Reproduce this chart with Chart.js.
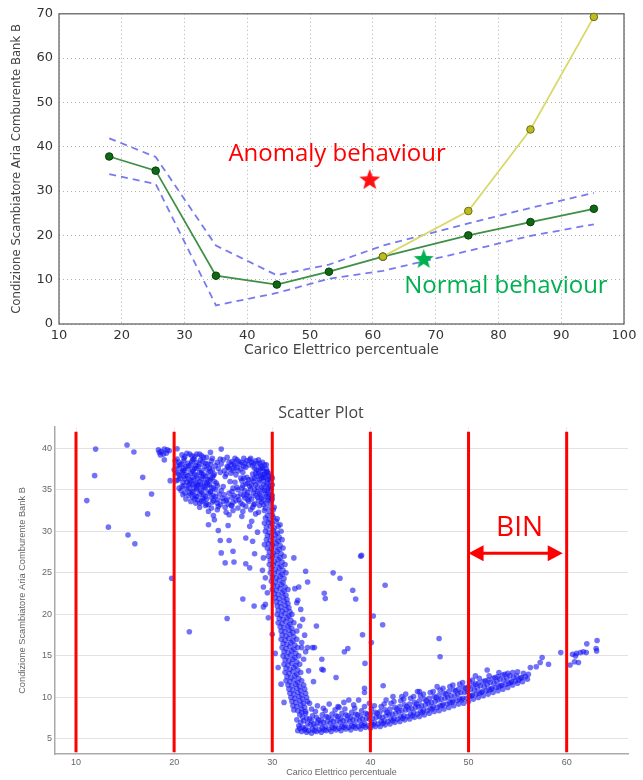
<!DOCTYPE html>
<html>
<head>
<meta charset="utf-8">
<title>Carico Elettrico percentuale</title>
<script src="https://cdn.jsdelivr.net/npm/chart.js@4.4.1/dist/chart.umd.min.js"></script>
<style>
  html, body { margin: 0; padding: 0; background: #fff; }
  #page { position: relative; width: 643px; height: 780px; }
  #behaviourChart { position: absolute; left: 0; top: 0; }
  #scatterChart { position: absolute; left: 0; top: 385px; }
</style>
</head>
<body>
<div id="page">
  <canvas id="behaviourChart" width="643" height="362"></canvas>
  <canvas id="scatterChart" width="643" height="395"></canvas>
</div>
<script>
// ---- behaviour curves (upper chart) ----
const loadPct   = [18, 25.4, 35, 44.7, 53, 61.6, 75.2, 85.1, 95.2];
const meanCond  = [37.8, 34.6, 10.9, 8.9, 11.8, 15.2, 20.0, 23.0, 26.0];
const upperBand = [41.9, 37.7, 17.7, 11.0, 13.4, 17.7, 22.7, 26.2, 29.6];
const lowerBand = [33.8, 31.6, 4.2, 7.0, 10.2, 12.0, 16.5, 19.9, 22.5];
const anomalyLoad = [61.6, 75.2, 85.1, 95.2];
const anomalyCond = [15.2, 25.5, 43.9, 69.3];
const anomalyStar = [59.5, 32.7];
const normalStar  = [68.1, 14.8];
const notes = [
  { text: 'Anomaly behaviour', at: [54.3, 36.7], color: '#ff0000' },
  { text: 'Normal behaviour',  at: [81.2, 6.9],  color: '#00b050' }
];
const topXTicks = [10, 20, 30, 40, 50, 60, 70, 80, 90, 100];
const topYTicks = [0, 10, 20, 30, 40, 50, 60, 70];

// ---- scatter samples (lower chart) ----
const clusterHigh = [
  [18.4,39.8],[18.7,39.6],[19.0,39.9],[19.2,39.4],[18.9,39.3],[19.5,39.7],[18.6,39.2],[19.3,39.8],[18.5,39.5],
  [20.8,39.2],[21.3,39.4],[21.8,39.1],[22.3,39.3],[22.8,39.1],[23.3,38.9],[21.0,38.8],[22.0,38.7],
  [20.1,38.5],[20.5,38.3],[21.0,38.5],[21.4,38.2],[21.8,38.4],[22.3,38.3],[22.7,38.6],[23.2,38.2],[23.8,38.5],[24.4,38.3],[25.0,38.6],[25.9,38.4],[26.4,38.6],[26.9,38.3],[27.4,38.5],[27.9,38.3],[28.3,38.5],[28.7,38.2],
  [20.3,37.9],[20.8,38.1],[21.2,37.8],[21.7,38.0],[22.2,37.9],[22.6,38.1],[23.1,37.8],[23.7,38.0],[24.2,37.9],[24.8,38.1],[25.4,37.8],[25.8,38.0],[26.2,37.9],[26.7,38.1],[27.1,37.8],[27.6,38.0],[28.0,37.9],[28.5,38.1],[28.9,37.8],[29.2,38.0],
  [20.0,37.4],[20.5,37.6],[20.9,37.3],[21.4,37.5],[21.9,37.4],[22.3,37.6],[22.8,37.3],[23.3,37.5],[23.9,37.4],[24.5,37.6],[25.1,37.3],[25.6,37.5],[26.0,37.6],[26.5,37.3],[28.4,37.4],[28.8,37.6],[29.1,37.3],[29.4,37.5],
  [20.4,36.9],[20.8,37.1],[21.2,36.8],[21.7,37.0],[22.1,36.9],[22.6,37.1],[23.0,36.8],[23.5,37.0],[24.1,36.9],[24.7,37.1],[25.3,36.9],[25.8,37.0],[26.3,36.8],[27.0,37.1],[28.0,36.9],[28.6,37.0],[29.0,36.8],[29.4,37.1],[29.6,36.7],
  [20.6,36.4],[21.0,36.6],[21.5,36.3],[21.9,36.5],[22.4,36.4],[22.9,36.6],[23.4,36.3],[23.9,36.5],[25.2,36.6],[26.8,36.4],[27.4,36.5],[27.9,36.3],[28.4,36.6],[28.9,36.4],[29.3,36.5],[29.7,36.3],
  [20.2,36.1],[21.3,35.9],[21.7,36.1],[22.2,35.8],[22.6,36.0],[23.1,35.9],[23.6,36.1],[24.3,35.8],[26.2,35.9],[26.9,36.1],[27.5,35.8],[28.1,36.0],[28.6,35.9],[29.1,36.1],[29.5,35.8],[29.8,36.0],
  [20.8,35.4],[21.5,35.6],[22.0,35.3],[22.4,35.5],[22.9,35.4],[23.4,35.6],[23.8,35.3],[24.4,35.5],[26.4,35.3],[27.0,35.5],[27.7,35.4],[28.3,35.6],[28.9,35.3],[29.4,35.5],[29.8,35.4],
  [20.7,34.9],[21.3,35.1],[21.8,34.8],[22.3,35.0],[22.7,34.9],[23.2,35.1],[23.7,34.8],[24.2,35.0],[24.8,34.9],[25.9,34.8],[26.5,35.0],[27.2,34.9],[27.8,35.1],[28.5,34.8],[29.0,35.0],[29.5,34.9],[29.9,35.1],
  [20.9,34.4],[21.6,34.6],[22.1,34.3],[22.6,34.5],[23.0,34.4],[23.5,34.6],[24.0,34.3],[24.6,34.5],[25.1,34.4],[25.6,34.6],[26.1,34.3],[26.8,34.5],[27.4,34.4],[28.1,34.6],[28.8,34.3],[29.3,34.5],[29.8,34.4],
  [21.2,33.9],[21.9,34.1],[22.4,33.8],[22.9,34.0],[23.3,33.9],[23.8,34.1],[24.4,33.8],[24.9,34.0],[25.4,33.9],[25.9,34.1],[26.6,33.8],[27.2,34.0],[27.9,33.9],[28.5,34.1],[29.1,33.8],[29.6,34.0],[30.0,33.9],
  [22.2,33.4],[22.8,33.6],[23.3,33.3],[23.9,33.5],[24.4,33.4],[25.0,33.6],[25.5,33.3],[26.0,33.5],[26.8,33.4],[27.6,33.6],[28.2,33.3],[28.9,33.5],[29.4,33.4],[29.9,33.6],
  [22.6,32.9],[23.2,33.1],[23.8,32.8],[24.5,33.0],[25.2,32.9],[25.9,33.1],[26.5,32.8],[27.3,33.0],[28.0,32.9],[28.7,33.1],[29.3,32.8],[29.8,33.0],[30.2,32.9],
  [23.5,32.4],[24.4,32.6],[25.3,32.3],[26.0,32.5],[27.0,32.4],[27.8,32.6],[28.6,32.3],[29.2,32.5],[29.7,32.4],[30.1,32.6],
  [24.0,31.9],[25.6,32.0],[26.9,31.8],[28.3,32.1],[29.5,31.9],[30.0,32.0]
];

// second pass of readings inside the two dense blocks of the high cluster
const clusterHighFill = [
  [20.3,38.7],[20.6,38.0],[21.0,37.6],[21.5,37.9],[21.9,38.6],[22.1,37.6],[22.5,37.8],[22.9,38.4],[23.4,38.1],[23.6,37.6],
  [20.2,37.1],[20.6,36.7],[21.0,37.3],[21.4,36.7],[21.9,37.2],[22.3,36.7],[22.8,37.0],[23.2,36.6],[23.7,37.2],[24.0,36.7],
  [20.4,36.2],[20.9,35.9],[21.1,36.3],[21.6,35.8],[22.0,36.2],[22.4,35.7],[22.8,36.3],[23.3,35.8],[23.7,36.3],[24.1,36.0],
  [20.5,35.2],[21.0,35.5],[21.5,35.2],[21.9,35.6],[22.3,35.2],[22.7,35.6],[23.1,35.3],[23.6,35.6],[24.0,35.2],
  [21.1,34.6],[21.5,34.3],[21.9,34.7],[22.3,34.2],[22.8,34.7],[23.2,34.2],[23.7,34.7],[24.2,34.2],
  [21.7,33.6],[22.1,33.9],[22.6,33.4],[23.0,33.7],[23.5,33.2],[24.0,33.7],[24.7,33.2],[25.3,33.7],[25.8,33.1],
  [26.3,33.7],[27.0,33.2],[27.5,33.8],[28.1,33.2],[28.6,33.7],[29.1,33.2],[29.6,33.7],
  [25.6,38.3],[26.1,38.2],[26.6,38.4],[27.2,38.2],[27.7,38.6],[28.1,38.2],[28.6,38.6],[29.0,38.3],[29.4,38.0],
  [25.5,37.7],[26.0,37.3],[26.4,37.7],[26.8,37.5],[27.3,37.7],[28.2,37.6],[28.6,37.3],[29.0,37.6],[29.5,37.2],
  [28.3,37.0],[28.8,36.7],[29.2,36.9],[29.6,37.0],[29.9,36.6],
  [27.1,36.4],[27.6,36.2],[28.2,36.4],[28.7,36.2],[29.1,36.5],[29.5,36.2],[30.0,36.4],
  [27.3,35.7],[27.9,35.6],[28.5,35.3],[29.1,35.6],[29.6,35.2],[30.0,35.6],
  [26.9,35.2],[27.5,34.7],[28.2,35.0],[28.7,34.6],[29.2,34.9],[29.6,34.6],[30.0,34.3],
  [26.5,34.2],[27.1,34.3],[27.7,34.2],[28.3,34.3],[28.9,34.0],[29.4,34.2],[29.9,34.0],
  [21.1,39.0],[21.6,39.3],[22.1,39.0],[22.6,39.3],[23.0,38.9],[23.9,38.8],[24.7,38.7],[25.4,38.9],[26.2,38.8],[27.1,38.8],[27.8,38.8]
];

const descent = [
  [29.3,31.6],[29.7,31.4],[30.1,31.7],[30.5,31.5],
  [29.2,31.0],[29.6,31.1],[30.0,30.9],[30.4,31.2],[30.8,30.8],
  [29.4,30.5],[29.8,30.6],[30.2,30.4],[30.6,30.6],
  [29.3,30.0],[29.7,29.9],[30.1,30.1],[30.5,29.8],[30.9,30.0],
  [29.5,29.5],[29.9,29.4],[30.3,29.6],[30.7,29.3],
  [29.4,29.0],[29.8,28.9],[30.2,29.1],[30.6,28.8],[31.0,29.0],
  [29.6,28.5],[30.0,28.4],[30.4,28.6],[30.8,28.3],
  [29.5,28.0],[29.9,27.9],[30.3,28.1],[30.7,27.8],[31.1,28.0],
  [29.7,27.5],[30.1,27.4],[30.5,27.6],[30.9,27.3],
  [29.6,27.0],[30.0,26.9],[30.4,27.1],[30.8,26.8],[31.2,27.0],
  [29.8,26.5],[30.2,26.4],[30.6,26.6],[31.0,26.3],
  [29.7,26.0],[30.1,25.9],[30.5,26.1],[30.9,25.8],[31.3,26.0],
  [29.9,25.5],[30.3,25.4],[30.7,25.6],[31.1,25.3],
  [29.8,25.0],[30.2,24.9],[30.6,25.1],[31.0,24.8],[31.4,25.0],
  [30.0,24.5],[30.4,24.4],[30.8,24.6],[31.2,24.3],
  [29.9,24.0],[30.3,23.9],[30.7,24.1],[31.1,23.8],
  [30.1,23.5],[30.5,23.4],[30.9,23.6],[31.3,23.3],
  [30.0,23.0],[30.4,22.9],[30.8,23.1],[31.2,22.8],[31.6,23.0],
  [30.2,22.5],[30.6,22.4],[31.0,22.6],[31.4,22.3],
  [30.3,22.0],[30.7,21.9],[31.1,22.1],[31.5,21.8],
  [30.4,21.5],[30.8,21.4],[31.2,21.6],[31.6,21.3],
  [30.5,21.0],[30.9,20.9],[31.3,21.1],[31.7,20.8],
  [30.6,20.5],[31.0,20.4],[31.4,20.6],[31.8,20.3],
  [30.5,20.0],[30.9,19.9],[31.3,20.1],[31.7,19.8],[32.0,20.0],
  [30.7,19.5],[31.1,19.4],[31.5,19.6],[31.9,19.3],
  [30.6,19.0],[31.0,18.9],[31.4,19.1],[31.8,18.8],[32.2,19.0],
  [30.8,18.5],[31.2,18.4],[31.6,18.6],[32.0,18.3],
  [30.9,18.0],[31.3,17.9],[31.7,18.1],[32.1,17.8],[32.5,18.0],
  [31.0,17.5],[31.4,17.4],[31.8,17.6],[32.2,17.3],
  [30.9,17.0],[31.3,16.9],[31.7,17.1],[32.1,16.8],[32.5,17.0],
  [31.1,16.5],[31.5,16.4],[31.9,16.6],[32.3,16.3],
  [31.0,16.0],[31.4,15.9],[31.8,16.1],[32.2,15.8],[32.6,16.0],
  [31.2,15.5],[31.6,15.4],[32.0,15.6],[32.4,15.3],
  [31.1,15.0],[31.5,14.9],[31.9,15.1],[32.3,14.8],[32.7,15.0],
  [31.3,14.5],[31.7,14.4],[32.1,14.6],[32.5,14.3],
  [31.2,14.0],[31.6,13.9],[32.0,14.1],[32.4,13.8],[32.8,14.0],
  [31.4,13.5],[31.8,13.4],[32.2,13.6],[32.6,13.3],
  [31.3,13.0],[31.7,12.9],[32.1,13.1],[32.5,12.8],[32.9,13.0],
  [31.5,12.5],[31.9,12.4],[32.3,12.6],[32.7,12.3],
  [31.4,12.0],[31.8,11.9],[32.2,12.1],[32.6,11.8],[33.0,12.0],
  [31.6,11.5],[32.0,11.4],[32.4,11.6],[32.8,11.3],[33.2,11.5],
  [31.7,11.0],[32.1,10.9],[32.5,11.1],[32.9,10.8],[33.3,11.0],
  [31.8,10.5],[32.2,10.4],[32.6,10.6],[33.0,10.3],[33.4,10.5],
  [31.9,10.0],[32.3,9.9],[32.7,10.1],[33.1,9.8],[33.5,10.0],
  [32.0,9.5],[32.4,9.4],[32.8,9.6],[33.2,9.3],[33.6,9.5],
  [32.1,9.0],[32.5,8.9],[32.9,9.1],[33.3,8.8],
  [32.2,8.5],[32.6,8.4],[33.0,8.6],[33.4,8.3],
  [32.6,21.7],[32.9,20.6],[33.1,19.4],[32.8,18.6],[33.3,17.5],[33.0,16.6],[33.4,15.5],[33.2,14.6],[33.7,13.2],
  [29.1,23.3],[29.3,21.2],[29.6,19.6],[30.0,17.6],[30.3,15.3],[30.6,13.6],[30.9,11.6],[31.2,9.4],
  [29.0,25.3],[29.1,26.8],[29.2,28.4],[29.3,24.4],[29.5,22.6]
];

const lowBand = [
  [32.6,6.0],[32.7,6.6],[32.5,7.3],[32.8,7.9],
  [33.0,5.9],[33.1,6.4],[32.9,7.0],[33.1,7.6],[33.0,8.2],
  [33.5,5.8],[33.4,6.3],[33.6,6.9],[33.5,7.5],[33.4,8.1],
  [34.0,5.7],[34.1,6.2],[33.9,6.7],[34.0,7.2],[34.1,7.8],
  [34.5,5.9],[34.4,6.5],[34.6,7.0],[34.5,7.6],[34.4,8.3],
  [35.0,5.8],[35.1,6.3],[34.9,6.8],[35.0,7.3],[35.1,7.9],
  [35.5,6.0],[35.4,6.5],[35.6,7.1],[35.5,7.7],[35.4,8.4],
  [36.0,5.9],[36.1,6.4],[35.9,6.9],[36.0,7.4],[36.1,8.0],
  [36.5,6.1],[36.4,6.6],[36.6,7.2],[36.5,7.8],[36.4,8.5],
  [37.0,6.0],[37.1,6.5],[36.9,7.0],[37.0,7.5],[37.1,8.1],
  [37.5,6.2],[37.4,6.7],[37.6,7.3],[37.5,7.9],[37.4,8.6],
  [38.0,6.1],[38.1,6.6],[37.9,7.1],[38.0,7.6],[38.1,8.2],
  [38.5,6.3],[38.4,6.8],[38.6,7.4],[38.5,8.0],[38.4,8.7],
  [39.0,6.2],[39.1,6.7],[38.9,7.2],[39.0,7.8],[39.1,8.4],
  [39.5,6.4],[39.4,6.9],[39.6,7.5],[39.5,8.1],[39.4,8.9],
  [40.0,6.3],[40.1,6.8],[39.9,7.4],[40.0,8.0],[40.1,8.6],
  [40.5,6.5],[40.4,7.0],[40.6,7.6],[40.5,8.2],[40.4,9.0],
  [41.0,6.5],[41.1,7.1],[40.9,7.7],[41.0,8.3],[41.1,8.9],
  [41.5,6.7],[41.4,7.2],[41.6,7.8],[41.5,8.5],[41.4,9.2],
  [42.0,6.8],[42.1,7.4],[41.9,8.0],[42.0,8.6],[42.1,9.3],
  [42.5,7.0],[42.4,7.5],[42.6,8.1],[42.5,8.8],[42.4,9.5],
  [43.0,7.1],[43.1,7.7],[42.9,8.3],[43.0,8.9],[43.1,9.6],
  [43.5,7.3],[43.4,7.8],[43.6,8.5],[43.5,9.1],[43.4,9.8],
  [44.0,7.4],[44.1,8.0],[43.9,8.6],[44.0,9.2],[44.1,9.9],
  [44.5,7.6],[44.4,8.2],[44.6,8.8],[44.5,9.4],[44.4,10.1],
  [45.0,7.7],[45.1,8.3],[44.9,8.9],[45.0,9.6],[45.1,10.2],
  [45.5,7.9],[45.4,8.5],[45.6,9.1],[45.5,9.8],[45.4,10.4],
  [46.0,8.1],[46.1,8.7],[45.9,9.3],[46.0,9.9],[46.1,10.6],
  [46.5,8.3],[46.4,8.9],[46.6,9.5],[46.5,10.1],[46.4,10.7],
  [47.0,8.4],[47.1,9.0],[46.9,9.7],[47.0,10.3],[47.1,10.9],
  [47.5,8.6],[47.4,9.2],[47.6,9.9],[47.5,10.5],[47.4,11.1],
  [48.0,8.8],[48.1,9.4],[47.9,10.0],[48.0,10.7],[48.1,11.3],
  [48.5,9.0],[48.4,9.6],[48.6,10.2],[48.5,10.9],[48.4,11.5],
  [49.0,9.2],[49.1,9.8],[48.9,10.4],[49.0,11.0],[49.1,11.6],
  [49.5,9.3],[49.4,9.9],[49.6,10.6],[49.5,11.2],[49.4,11.8],
  [50.0,9.5],[50.1,10.1],[49.9,10.7],[50.0,11.3],[50.1,11.9],
  [50.5,9.8],[50.4,10.3],[50.6,10.9],[50.5,11.5],[50.4,12.1],
  [51.0,10.0],[51.1,10.5],[50.9,11.1],[51.0,11.7],[51.1,12.3],
  [51.5,10.2],[51.4,10.7],[51.6,11.3],[51.5,11.9],
  [52.0,10.4],[52.1,10.9],[51.9,11.5],[52.0,12.1],[52.1,12.6],
  [52.5,10.6],[52.4,11.1],[52.6,11.7],[52.5,12.3],
  [53.0,10.8],[53.1,11.3],[52.9,11.9],[53.0,12.5],[53.1,13.0],
  [53.5,11.0],[53.4,11.5],[53.6,12.1],[53.5,12.7],
  [54.0,11.2],[54.1,11.7],[53.9,12.3],[54.0,12.9],
  [54.5,11.5],[54.4,11.9],[54.6,12.4],[54.5,13.0],
  [55.0,11.7],[55.1,12.1],[54.9,12.6],[55.0,13.1],
  [55.5,11.9],[55.4,12.4],[55.6,12.9],
  [56.0,12.2],[56.1,12.8]
];

// second pass of readings between the columns of the band
const lowBandFill = [
  [32.8,6.3],[33.3,6.1],[33.7,6.0],[33.2,7.2],[33.8,7.4],[34.3,6.0],[34.2,6.8],[34.8,6.1],[34.7,7.3],
  [35.3,6.1],[35.2,7.0],[35.8,6.2],[35.7,7.6],[36.3,6.3],[36.2,7.1],[36.8,6.3],[36.7,7.7],[37.3,6.4],
  [37.2,7.2],[37.8,6.4],[37.7,7.8],[38.3,6.5],[38.2,7.3],[38.8,6.5],[38.7,7.9],[39.3,6.6],[39.2,7.4],
  [39.8,6.6],[39.7,8.0],[40.3,6.7],[40.2,7.5],[40.8,6.8],[40.7,8.1],[41.3,6.9],[41.2,7.6],[41.8,7.1],
  [41.7,8.2],[42.3,7.2],[42.2,8.0],[42.8,7.4],[42.7,8.6],[43.3,7.5],[43.2,8.4],[43.8,7.7],[43.7,8.9],
  [44.3,7.8],[44.2,8.7],[44.8,8.0],[44.7,9.2],[45.3,8.2],[45.2,9.0],[45.8,8.4],[45.7,9.6],[46.3,8.6],
  [46.2,9.4],[46.8,8.8],[46.7,10.0],[47.3,9.0],[47.2,9.8],[47.8,9.2],[47.7,10.4],[48.3,9.4],[48.2,10.2],
  [48.8,9.6],[48.7,10.8],[49.3,9.7],[49.2,10.6],[49.8,9.9],[49.7,11.1],[50.3,10.2],[50.2,11.0],[50.8,10.4],
  [50.7,11.6],[51.3,10.6],[51.2,11.4],[51.8,10.8],[51.7,12.0],[52.3,11.0],[52.2,11.8],[52.8,11.2],[52.7,12.4],
  [53.3,11.4],[53.2,12.2],[53.8,11.6],[53.7,12.8],[54.3,11.8],[54.2,12.6],[54.8,12.0],[55.3,12.3],[55.8,12.5],
  [34.0,8.6],[35.2,8.7],[36.8,8.8],[38.3,9.1],[39.9,9.3],[41.6,9.7],[43.2,10.1],[45.0,10.7],[46.8,11.3]
];

const highLoadTail = [
  [56.3,13.6],[56.9,13.7],[57.3,14.2],[57.5,14.8],[58.15,14.0],[59.4,15.4],[60.35,13.9],
  [60.6,15.2],[60.9,15.0],[61.2,14.2],[61.0,15.3],[61.4,15.4],[61.7,15.5],[62.0,15.4],
  [60.8,14.3],[62.05,16.45],[63.1,16.85],[63.0,15.9],[63.05,15.6]
];

const strays = [
  [12.0,39.9],[15.2,40.4],[15.9,39.55],[11.9,36.7],[16.8,36.5],[11.1,33.7],[17.7,34.5],[17.3,32.1],
  [13.3,30.5],[15.3,29.55],[16.0,28.5],[19.0,38.6],[19.6,36.1],[20.3,39.95],[24.8,39.9],[23.7,39.5],
  [19.75,24.35],[21.55,17.9],[25.4,19.5],[27.0,21.85],[28.15,21.0],[29.1,20.9],[26.1,26.3],[25.2,26.2],
  [27.3,26.1],[27.7,25.6],[26.0,27.6],[25.6,28.9],[24.8,27.4],[24.7,28.9],[24.5,30.1],[25.5,30.7],
  [27.3,29.2],[27.7,30.6],[28.2,27.3],[28.0,28.8],[28.5,29.9],[27.9,31.2],[24.1,31.4],[23.5,30.8],
  [32.2,26.8],[33.4,25.2],[36.2,25.0],[36.9,24.35],[33.6,23.9],[32.7,23.3],[32.3,23.1],[35.3,22.55],
  [35.4,21.9],[38.2,22.9],[38.5,21.85],[39.0,27.0],[39.1,27.1],[32.5,21.4],[34.5,18.6],[39.2,17.55],
  [40.3,19.8],[41.25,18.75],[41.5,23.5],[40.1,16.6],[37.7,15.9],[37.35,15.5],[34.1,16.0],[33.0,16.0],
  [47.0,17.1],[47.1,14.9],[39.45,14.1],[41.3,11.4],[39.4,11.1],[35.05,14.6],[35.05,13.4],[36.5,12.4],
  [35.2,13.3],[34.2,11.9],[37.8,9.7],[38.8,9.7],[39.4,10.6],[50.7,12.6],[51.9,13.3],[33.6,16.0],[34.3,16.0],
  [33.8,9.3],[34.6,9.0],[35.8,9.2],[36.7,8.9],[37.3,9.4],[42.3,10.1],[44.8,10.7],[43.6,10.4],
  [25.0,35.4],[25.7,36.0],[26.0,35.2]
];

const binEdges = [10, 20, 30, 40, 50, 60];
const edgeSpan = [3.4, 42.0];
const binArrow = { span: [50, 59.6], level: 27.35, label: 'BIN', labelAt: [55.2, 29.4] };
const scatterXTicks = [10, 20, 30, 40, 50, 60];
const scatterYTicks = [5, 10, 15, 20, 25, 30, 35, 40];

const yTitle = 'Condizione Scambiatore Aria Comburente Bank B';
const xTitle = 'Carico Elettrico percentuale';

// helpers
const zip = (xs, ys) => xs.map((x, i) => ({ x, y: ys[i] }));
const asPoints = list => list.map(p => ({ x: p[0], y: p[1] }));

function starImage(color, r) {
  const c = document.createElement('canvas');
  c.width = c.height = Math.ceil(r * 2 + 2);
  const g = c.getContext('2d');
  g.translate(c.width / 2, c.height / 2 + r * 0.1);
  g.beginPath();
  for (let i = 0; i < 10; i++) {
    const a = -Math.PI / 2 + i * Math.PI / 5;
    const rr = i % 2 ? r * 0.42 : r;
    g.lineTo(rr * Math.cos(a), rr * Math.sin(a));
  }
  g.closePath();
  g.fillStyle = color;
  g.fill();
  return c;
}

// frame round the plot area, matplotlib style
const framePlugin = {
  id: 'frame',
  beforeDatasetsDraw(chart) {
    const { ctx, chartArea: a } = chart;
    ctx.save();
    ctx.strokeStyle = '#666';
    ctx.lineWidth = 1.3;
    ctx.strokeRect(a.left, a.top, a.right - a.left, a.bottom - a.top);
    ctx.restore();
  }
};

const notesPlugin = {
  id: 'notes',
  afterDatasetsDraw(chart) {
    const { ctx, scales: { x, y } } = chart;
    ctx.save();
    ctx.font = '24px "Open Sans"';
    ctx.textAlign = 'center';
    ctx.textBaseline = 'alphabetic';
    notes.forEach(n => {
      ctx.fillStyle = n.color;
      ctx.fillText(n.text, x.getPixelForValue(n.at[0]), y.getPixelForValue(n.at[1]));
    });
    ctx.restore();
  }
};

const binPlugin = {
  id: 'binArrow',
  afterDatasetsDraw(chart) {
    const { ctx, scales: { x, y } } = chart;
    const x0 = x.getPixelForValue(binArrow.span[0]);
    const x1 = x.getPixelForValue(binArrow.span[1]);
    const yy = y.getPixelForValue(binArrow.level);
    const head = 15, half = 8;
    ctx.save();
    ctx.strokeStyle = ctx.fillStyle = '#ff0000';
    ctx.lineWidth = 3;
    ctx.beginPath();
    ctx.moveTo(x0 + head - 1, yy);
    ctx.lineTo(x1 - head + 1, yy);
    ctx.stroke();
    ctx.beginPath();
    ctx.moveTo(x0, yy); ctx.lineTo(x0 + head, yy - half); ctx.lineTo(x0 + head, yy + half);
    ctx.closePath(); ctx.fill();
    ctx.beginPath();
    ctx.moveTo(x1, yy); ctx.lineTo(x1 - head, yy - half); ctx.lineTo(x1 - head, yy + half);
    ctx.closePath(); ctx.fill();
    ctx.font = '28px "Open Sans"';
    ctx.textAlign = 'center';
    ctx.textBaseline = 'alphabetic';
    ctx.fillText(binArrow.label, x.getPixelForValue(binArrow.labelAt[0]), y.getPixelForValue(binArrow.labelAt[1]));
    ctx.restore();
  }
};

Chart.defaults.animation = false;
Chart.defaults.events = [];

// ---- upper chart ----
const dashed = { borderColor: 'rgba(88,88,235,0.8)', borderWidth: 1.8, borderDash: [7, 5], pointRadius: 0, tension: 0 };
new Chart(document.getElementById('behaviourChart'), {
  type: 'line',
  data: {
    datasets: [
      { ...dashed, data: zip(loadPct, upperBand), order: 4 },
      { ...dashed, data: zip(loadPct, lowerBand), order: 4 },
      {
        data: zip(loadPct, meanCond), borderColor: '#3f8f46', borderWidth: 1.8, tension: 0,
        pointRadius: 3.8, pointBackgroundColor: '#0e6a12', pointBorderColor: '#0a3d0c', pointBorderWidth: 1, order: 3
      },
      {
        data: zip(anomalyLoad, anomalyCond), borderColor: '#d9d96b', borderWidth: 1.8, tension: 0,
        pointRadius: 3.8, pointBackgroundColor: '#bcbc21', pointBorderColor: '#6b6b10', pointBorderWidth: 1, order: 2
      },
      { data: [{ x: anomalyStar[0], y: anomalyStar[1] }], showLine: false, pointStyle: starImage('#ff1010', 11), order: 1 },
      { data: [{ x: normalStar[0], y: normalStar[1] }], showLine: false, pointStyle: starImage('#00b050', 10.5), order: 1 }
    ]
  },
  options: {
    responsive: false,
    clip: false,
    layout: { padding: { top: 11, right: 19, left: 0, bottom: 0 } },
    plugins: { legend: { display: false }, tooltip: { enabled: false } },
    scales: {
      x: {
        type: 'linear', min: 10, max: 100,
        afterBuildTicks: s => { s.ticks = topXTicks.map(v => ({ value: v })); },
        afterFit: s => { s.height = 38; },
        ticks: { color: '#333', font: { family: 'DejaVu Sans', size: 13 }, padding: 4, maxRotation: 0 },
        grid: { color: '#b0b0b0', lineWidth: 1, drawTicks: false },
        border: { display: false, dash: [1, 3] },
        title: { display: true, text: xTitle, color: '#444', font: { family: 'DejaVu Sans', size: 14 }, padding: { top: 0, bottom: 3 } }
      },
      y: {
        type: 'linear', min: 0, max: 70,
        afterBuildTicks: s => { s.ticks = topYTicks.map(v => ({ value: v })); },
        afterFit: s => { s.width = 59; },
        ticks: { color: '#333', font: { family: 'DejaVu Sans', size: 13 }, padding: 6 },
        grid: { color: '#b0b0b0', lineWidth: 1, drawTicks: false },
        border: { display: false, dash: [1, 3] },
        title: { display: true, text: yTitle, color: '#444', font: { family: 'DejaVu Sans', size: 11.7 }, padding: { top: 10, bottom: 0 } }
      }
    }
  },
  plugins: [framePlugin, notesPlugin]
});

// ---- lower chart ----
const dots = { showLine: false, pointRadius: 2.8, pointBorderWidth: 0, pointBackgroundColor: 'rgba(20,20,245,0.6)', order: 5 };
const edgeLines = binEdges.map(e => ({
  data: [{ x: e, y: edgeSpan[0] }, { x: e, y: edgeSpan[1] }],
  showLine: true, borderColor: '#ff0000', borderWidth: 3, pointRadius: 0, order: 1
}));

new Chart(document.getElementById('scatterChart'), {
  type: 'scatter',
  data: {
    datasets: [
      ...edgeLines,
      { ...dots, data: asPoints(clusterHigh) },
      { ...dots, data: asPoints(clusterHighFill) },
      { ...dots, data: asPoints(descent) },
      { ...dots, data: asPoints(lowBand) },
      { ...dots, data: asPoints(lowBandFill) },
      { ...dots, data: asPoints(highLoadTail) },
      { ...dots, data: asPoints(strays) }
    ]
  },
  options: {
    responsive: false,
    layout: { padding: { top: 0, right: 15, left: 14, bottom: 0 } },
    plugins: {
      legend: { display: false },
      tooltip: { enabled: false },
      title: {
        display: true, text: 'Scatter Plot', color: '#444',
        font: { family: 'Open Sans', size: 16, weight: 'normal' },
        padding: { top: 19, bottom: 3.8 }
      }
    },
    scales: {
      x: {
        type: 'linear', min: 7.86, max: 66.25,
        afterBuildTicks: s => { s.ticks = scatterXTicks.map(v => ({ value: v })); },
        afterFit: s => { s.height = 26; },
        ticks: { color: '#666', font: { family: 'Liberation Sans', size: 9 }, padding: 3, maxRotation: 0 },
        grid: { color: '#eeeeee', lineWidth: 1, drawTicks: false },
        border: { display: true, color: '#aaa', width: 1.5 },
        title: { display: true, text: xTitle, color: '#666', font: { family: 'Liberation Sans', size: 9 }, padding: { top: 0, bottom: 2.5 } }
      },
      y: {
        type: 'linear', min: 3.19, max: 42.56,
        afterBuildTicks: s => { s.ticks = scatterYTicks.map(v => ({ value: v })); },
        afterFit: s => { s.width = 41; },
        ticks: { color: '#666', font: { family: 'Liberation Sans', size: 9 }, padding: 3 },
        grid: { color: '#e2e2e2', lineWidth: 1, drawTicks: false },
        border: { display: true, color: '#aaa', width: 1.5 },
        title: { display: true, text: yTitle, color: '#666', font: { family: 'Liberation Sans', size: 9.3 }, padding: { top: 2.5, bottom: 0 } }
      }
    }
  },
  plugins: [binPlugin]
});
</script>
</body>
</html>
